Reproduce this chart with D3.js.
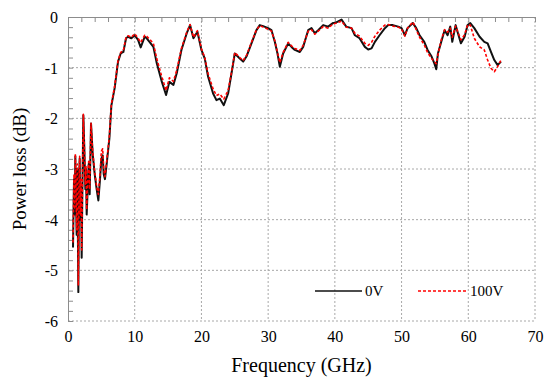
<!DOCTYPE html>
<html>
<head>
<meta charset="utf-8">
<script src="https://cdn.jsdelivr.net/npm/d3@7"></script>
<style>
  body { margin: 0; background: #fff; }
  text { font-family: "Liberation Serif", "Times New Roman", serif; fill: #000; }
</style>
</head>
<body>
<script>
// frequency samples (GHz) shared by both curves
const freqGHz = [
  0.75, 0.9, 1.0, 1.1, 1.2, 1.3, 1.4, 1.5, 1.55, 1.65, 1.75, 1.85, 1.95, 2.05, 2.15, 2.3,
  2.45, 2.6, 2.7, 2.8, 2.95, 3.1, 3.25, 3.45, 3.7, 4.0, 4.3, 4.55, 4.8, 5.0, 5.2, 5.35,
  5.54, 5.8, 6.0, 6.2, 6.5, 7.0, 7.5, 7.9, 8.3, 8.7, 9.0, 9.5, 10.0, 10.5, 10.9, 11.5,
  11.8, 12.8, 13.3, 14.0, 14.7, 15.2, 15.8, 16.3, 17.0, 17.8, 18.3, 18.8, 19.4, 20.0,
  20.5, 21.0, 21.75, 22.25, 22.75, 23.35, 24.0, 24.5, 25.0, 25.75, 26.25, 26.75, 27.5,
  28.25, 28.75, 29.25, 30.0, 30.5, 31.0, 31.4, 31.75, 32.25, 33.0, 33.5, 34.0, 34.75,
  35.25, 36.0, 36.5, 37.0, 37.5, 38.25, 39.0, 39.7, 40.0, 41.0, 41.7, 42.5, 43.0, 43.7,
  44.5, 45.0, 45.5, 46.0, 46.7, 47.5, 48.0, 48.7, 49.5, 50.0, 50.5, 50.9, 51.7, 52.2,
  52.7, 53.4, 53.9, 54.5, 54.9, 55.2, 55.45, 55.95, 56.45, 56.9, 57.3, 57.6, 58.1, 58.45,
  58.9, 59.45, 59.9, 60.3, 60.9, 61.7, 62.4, 62.9, 63.4, 63.9, 64.4, 64.9
];

// power loss (dB) at 0 V
const loss0V = [
  -4.55, -3.2, -3.9, -2.75, -3.6, -4.3, -3.0, -4.6, -5.43, -3.4, -2.8, -4.0, -3.3, -4.75, -3.5, -1.94,
  -2.6, -3.4, -3.0, -3.9, -3.4, -2.9, -3.5, -2.1, -2.7, -3.1, -3.4, -3.62, -3.2, -2.8, -2.73, -3.1,
  -3.2, -2.9, -2.65, -2.4, -1.75, -1.4, -0.88, -0.72, -0.69, -0.42, -0.39, -0.42, -0.36, -0.45, -0.6, -0.39,
  -0.42, -0.59, -0.91, -1.25, -1.54, -1.28, -1.34, -1.11, -0.65, -0.32, -0.16, -0.42, -0.29, -0.65,
  -0.82, -1.18, -1.51, -1.64, -1.61, -1.74, -1.51, -1.12, -0.72, -0.82, -0.88, -0.78, -0.52,
  -0.26, -0.16, -0.18, -0.22, -0.26, -0.49, -0.72, -0.98, -0.72, -0.52, -0.59, -0.65, -0.69,
  -0.59, -0.26, -0.22, -0.32, -0.26, -0.16, -0.19, -0.12, -0.12, -0.05, -0.19, -0.22, -0.36, -0.42,
  -0.59, -0.64, -0.62, -0.49, -0.36, -0.22, -0.16, -0.16, -0.19, -0.22, -0.36, -0.22, -0.12, -0.22,
  -0.36, -0.49, -0.65, -0.78, -0.91, -1.03, -0.72, -0.49, -0.26, -0.36, -0.19, -0.49, -0.16, -0.32,
  -0.52, -0.39, -0.16, -0.12, -0.22, -0.39, -0.49, -0.52, -0.69, -0.85, -0.95, -0.88
];

// power loss (dB) at 100 V
const loss100V = [
  -4.45, -3.1, -3.8, -2.7, -3.5, -4.2, -2.9, -4.5, -5.3, -3.3, -2.75, -3.9, -3.2, -4.6, -3.4, -1.92,
  -2.55, -3.3, -2.95, -3.8, -3.3, -2.85, -3.4, -2.1, -2.65, -3.05, -3.35, -3.5, -3.1, -2.65, -2.6, -3.0,
  -3.15, -2.85, -2.6, -2.35, -1.72, -1.36, -0.86, -0.7, -0.66, -0.4, -0.37, -0.4, -0.33, -0.42, -0.5, -0.36,
  -0.38, -0.52, -0.82, -1.15, -1.45, -1.2, -1.27, -1.05, -0.62, -0.3, -0.15, -0.4, -0.27, -0.63,
  -0.8, -1.12, -1.42, -1.55, -1.52, -1.62, -1.45, -1.1, -0.7, -0.8, -0.86, -0.76, -0.5,
  -0.25, -0.17, -0.2, -0.24, -0.28, -0.47, -0.7, -0.9, -0.7, -0.5, -0.57, -0.62, -0.66,
  -0.56, -0.28, -0.25, -0.34, -0.28, -0.19, -0.22, -0.14, -0.13, -0.08, -0.2, -0.22, -0.32, -0.38,
  -0.52, -0.56, -0.5, -0.38, -0.26, -0.16, -0.15, -0.18, -0.2, -0.24, -0.38, -0.22, -0.1, -0.25,
  -0.4, -0.55, -0.7, -0.82, -0.88, -0.92, -0.75, -0.45, -0.25, -0.3, -0.22, -0.4, -0.18, -0.3,
  -0.45, -0.35, -0.15, -0.16, -0.42, -0.59, -0.65, -0.85, -1.01, -1.08, -0.98, -0.85
];

const xTicks = [0, 10, 20, 30, 40, 50, 60, 70];
const yTicks = [0, -1, -2, -3, -4, -5, -6];
const series = [
  { name: "0V", values: loss0V, color: "#111", width: 2, dash: null },
  { name: "100V", values: loss100V, color: "#ff0000", width: 1.6, dash: "3,2" }
];

const W = 545, H = 379;
const plot = { left: 68, right: 535, top: 17, bottom: 321 };

const x = d3.scaleLinear().domain([0, 70]).range([plot.left, plot.right]);
const y = d3.scaleLinear().domain([-6, 0]).range([plot.bottom, plot.top]);

const svg = d3.select("body").append("svg")
  .attr("width", W)
  .attr("height", H);

// dotted grid
const grid = svg.append("g").attr("class", "grid")
  .attr("stroke", "#a8a8a8")
  .attr("stroke-width", 1)
  .attr("stroke-dasharray", "2,2");

grid.selectAll("line.vx")
  .data(xTicks.slice(1))
  .join("line")
  .attr("x1", d => x(d)).attr("x2", d => x(d))
  .attr("y1", plot.top).attr("y2", plot.bottom);

grid.selectAll("line.hy")
  .data(yTicks.slice(1))
  .join("line")
  .attr("x1", plot.left).attr("x2", plot.right)
  .attr("y1", d => y(d)).attr("y2", d => y(d));

// top edge with minor ticks pointing down
const topAxis = svg.append("g")
  .attr("transform", `translate(0,${plot.top})`)
  .call(d3.axisBottom(x).tickValues(d3.range(0, 71, 2)).tickSize(5).tickSizeOuter(0).tickFormat(""));
topAxis.select(".domain").attr("stroke", "#8c8c8c");
topAxis.selectAll(".tick line").attr("stroke", "#8c8c8c");

// left edge with minor ticks pointing right
const leftAxis = svg.append("g")
  .attr("transform", `translate(${plot.left},0)`)
  .call(d3.axisRight(y).tickValues(d3.range(-6, 0.01, 0.2)).tickSize(5).tickSizeOuter(0).tickFormat(""));
leftAxis.select(".domain").attr("stroke", "#8c8c8c");
leftAxis.selectAll(".tick line").attr("stroke", "#8c8c8c");

// tick labels (plain hyphen for minus, as in the original)
const xLab = svg.append("g")
  .attr("transform", `translate(0,${plot.bottom + 18})`)
  .call(d3.axisBottom(x).tickValues(xTicks).tickSize(0).tickFormat(d => String(d)));
xLab.select(".domain").remove();
xLab.selectAll("text")
  .attr("dy", 0)
  .style("font-family", "Liberation Serif, serif")
  .style("font-size", "16px");

const yLab = svg.append("g")
  .attr("transform", `translate(${plot.left - 10},0)`)
  .call(d3.axisLeft(y).tickValues(yTicks).tickSize(0).tickFormat(d => String(d)));
yLab.select(".domain").remove();
yLab.selectAll("text")
  .attr("x", 0)
  .attr("dy", "0.35em")
  .style("font-family", "Liberation Serif, serif")
  .style("font-size", "16px");

// curves
const line = d3.line()
  .x((d, i) => x(freqGHz[i]))
  .y(d => y(d));

svg.selectAll("path.curve")
  .data(series)
  .join("path")
  .attr("class", "curve")
  .attr("fill", "none")
  .attr("stroke", d => d.color)
  .attr("stroke-width", d => d.width)
  .attr("stroke-dasharray", d => d.dash)
  .attr("stroke-linejoin", "round")
  .attr("d", d => line(d.values));

// legend
const legend = svg.append("g").attr("class", "legend");
const legendPos = [{ x1: 315, x2: 362, tx: 365 }, { x1: 418, x2: 468, tx: 470 }];
series.forEach((s, i) => {
  const p = legendPos[i];
  legend.append("line")
    .attr("x1", p.x1).attr("x2", p.x2)
    .attr("y1", 291).attr("y2", 291)
    .attr("stroke", s.color)
    .attr("stroke-width", s.dash ? 1.3 : 1.6)
    .attr("stroke-dasharray", s.dash);
  legend.append("text")
    .attr("x", p.tx).attr("y", 296)
    .style("font-size", "15px")
    .text(s.name);
});

// axis titles
svg.append("text")
  .attr("x", (plot.left + plot.right) / 2)
  .attr("y", 372)
  .attr("text-anchor", "middle")
  .style("font-size", "20px")
  .text("Frequency (GHz)");

svg.append("text")
  .attr("transform", `translate(26,${(plot.top + plot.bottom) / 2}) rotate(-90)`)
  .attr("text-anchor", "middle")
  .style("font-size", "19px")
  .text("Power loss (dB)");
</script>
</body>
</html>
